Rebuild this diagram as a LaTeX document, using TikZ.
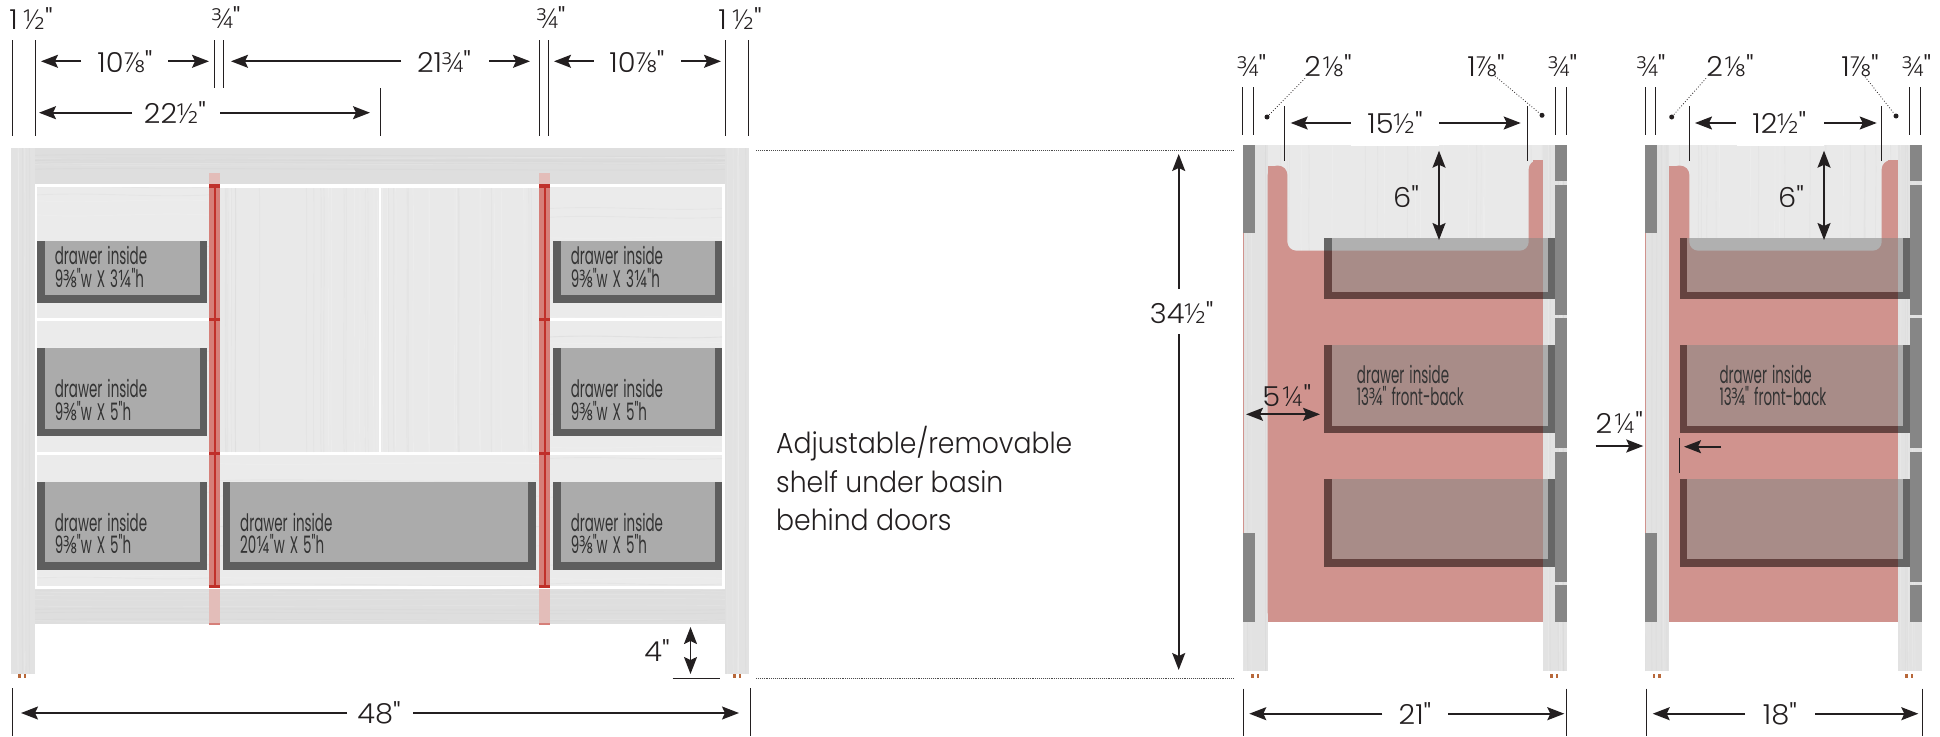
\documentclass[tikz,border=0pt]{standalone}
\usepackage{fontspec}
\usetikzlibrary{arrows.meta}
\newfontfamily\dimfont[FakeStretch=1.05]{Poppins Light}
\newfontfamily\dimfrac[FakeStretch=1.05]{Open Sans Light}
\newfontfamily\drawfont[FakeStretch=0.56,WordSpace=1.4]{Poppins}
\newfontfamily\drawfrac[FakeStretch=0.72]{Open Sans}
\newfontfamily\notefont[FakeStretch=0.92]{Poppins Light}
\newcommand{\F}[1]{{\curfrac #1}}
\definecolor{legc}{HTML}{E2E2E2}
\definecolor{railc}{HTML}{DEDEDE}
\definecolor{frontc}{HTML}{EBEBEB}
\definecolor{doorc}{HTML}{E9E9E9}
\definecolor{framec}{HTML}{5E5E5E}
\definecolor{innerc}{HTML}{ABABAB}
\definecolor{redpanel}{HTML}{D0938E}
\definecolor{redframe}{HTML}{654340}
\definecolor{redinner}{HTML}{A88C88}
\definecolor{stripc}{HTML}{868686}
\definecolor{stilec}{HTML}{D67F79}
\definecolor{stilepale}{HTML}{E3BDB9}
\definecolor{stiledark}{HTML}{C0302A}
\definecolor{inkc}{HTML}{231F20}
\definecolor{footc}{HTML}{B8683A}
\tikzset{
  x=1pt,y=-1pt,
  tick/.style={draw=inkc,line width=1pt},
  arr/.style={draw=inkc,line width=1.7pt,-{Stealth[length=17pt,width=13pt,inset=3pt]}},
  arrs/.style={draw=inkc,line width=1.7pt,{Stealth[length=17pt,width=13pt,inset=3pt]}-{Stealth[length=17pt,width=13pt,inset=3pt]}},
  dl/.style={inner sep=0pt,text=inkc,font=\let\curfrac\dimfrac\dimfont\fontsize{27.5}{27.5}\selectfont},
  dw/.style={inner sep=0pt,anchor=west,align=left,text=black!80,font=\let\curfrac\drawfrac\drawfont\fontsize{24}{22.5}\selectfont},
  leader/.style={draw=inkc,line width=0.8pt,dotted},
  guide/.style={draw=black!70,line width=0.9pt,densely dotted},
  grain/.style={line width=0.9pt,opacity=0.14},
}
% horizontal dimension: name, x1, x2, x3, x4, y, centre, text
\newcommand{\hdim}[8]{%
  \coordinate (#1a) at (#2,#6); \coordinate (#1b) at (#3,#6);
  \coordinate (#1c) at (#4,#6); \coordinate (#1d) at (#5,#6);
  \draw[arr] (#1b) -- (#1a); \draw[arr] (#1c) -- (#1d);
  \node[dl] (#1t) at (#7,#6) {#8};}
\newcommand{\tk}[4]{\coordinate (#1a) at (#2,#3); \coordinate (#1b) at (#2,#4); \draw[tick] (#1a) -- (#1b);}
\newcommand{\bx}[5]{\fill[#5] (#1,#2) rectangle (#3,#4);}
% faint wood grain: vertical and horizontal streaks in a rectangle
\newcommand{\grainv}[5]{\begin{scope}\clip (#1,#2) rectangle (#3,#4);
  \foreach \gi in {1,...,#5}{\pgfmathsetmacro{\gx}{#1+rnd*(#3-#1)}\pgfmathsetmacro{\gb}{ifthenelse(rnd>0.5,1,0)}
    \pgfmathsetmacro{\gs}{rnd*0.5}
    \ifdim\gb pt>0.5pt\draw[grain,white] (\gx,#2) .. controls (\gx+1,#2+40) and (\gx-1,#4-40) .. (\gx+\gs,#4);\else
    \draw[grain,black!22] (\gx,#2) .. controls (\gx+1,#2+40) and (\gx-1,#4-40) .. (\gx+\gs,#4);\fi}\end{scope}}
\newcommand{\grainh}[5]{\begin{scope}\clip (#1,#2) rectangle (#3,#4);
  \foreach \gi in {1,...,#5}{\pgfmathsetmacro{\gy}{#2+rnd*(#4-#2)}\pgfmathsetmacro{\gb}{ifthenelse(rnd>0.5,1,0)}
    \ifdim\gb pt>0.5pt\draw[grain,white] (#1,\gy) .. controls (#1+60,\gy+3) and (#3-60,\gy-3) .. (#3,\gy);\else
    \draw[grain,black!22] (#1,\gy) .. controls (#1+60,\gy-3) and (#3-60,\gy+3) .. (#3,\gy);\fi}\end{scope}}
% drawer window in front view
\newcommand{\win}[7]{\bx{#1}{#3}{#2}{#4}{framec}\bx{#6}{#3}{#7}{#5}{innerc}}
\newcommand{\sidedrawer}[3]{%
  \bx{\dL}{#1}{\lgR}{#3}{redframe}\bx{\lgR}{#1}{\dR}{#3}{black!60}
  \bx{\iL}{#1}{\lgR}{#2}{redinner}\bx{\lgR}{#1}{\iR}{#2}{black!32}}
\newcommand{\sideview}{%
  \bx{\oL}{145}{\oR}{621.7}{doorc}
  \grainv{\lfR}{145}{\lgR}{255}{22}
  \bx{\oL}{145}{\lfR}{671}{legc}\bx{\lgR}{145}{\oR}{671}{legc}
  \grainv{\oL}{145}{\lfR}{671}{7}\grainv{\lgR}{145}{\oR}{671}{7}
  \bx{\oL}{145}{\stL}{233.3}{stripc}\bx{\oL}{533}{\stL}{621.7}{stripc}
  \bx{\dR}{145}{\oR}{181}{stripc}\bx{\dR}{185}{\oR}{315}{stripc}
  \bx{\dR}{318.3}{\oR}{447.7}{stripc}\bx{\dR}{452}{\oR}{582}{stripc}
  \bx{\dR}{585.3}{\oR}{621.7}{stripc}
  \bx{\oL}{233.3}{\oL+1}{533}{redpanel}
  \fill[redpanel,rounded corners=9pt] (\lfR,621.7) -- (\lfR,165.7) -- (\nL,165.7) -- (\nL,250.7) -- (\nR,250.7) -- (\nR,160.3) -- (\lgR,160.3) -- (\lgR,621.7) -- cycle;
  \bx{\lfR}{165.7}{\lfR+10}{621.7}{redpanel}
  \bx{\lgR-10}{160.3}{\lgR}{621.7}{redpanel}
  \bx{\lfR+5}{610}{\lgR-5}{621.7}{redpanel}
  \sidedrawer{237.7}{292}{299.3}
  \sidedrawer{345}{426}{433.3}
  \sidedrawer{478.7}{559.3}{567}
  \begin{scope}
    \clip[rounded corners=9pt] (\nL,130) rectangle (\nR,250.7);
    \bx{\dL}{237.7}{\iL}{251}{black!60}
    \bx{\iL}{237.7}{\iR}{251}{black!31}
  \end{scope}
}
\begin{document}
\begin{tikzpicture}
\pgfmathsetseed{4242}
\useasboundingbox (0,0) rectangle (1940,736);
%---- front view ----
\bx{35}{148}{725}{184}{railc}\grainh{35}{148}{725}{184}{10}
\bx{35}{589}{725}{624}{railc}\grainh{35}{589}{725}{624}{10}
\bx{11}{148}{35}{674}{legc}\grainv{11}{148}{35}{674}{7}
\bx{725}{148}{749}{674}{legc}\grainv{725}{148}{749}{674}{7}
\foreach \yy/\zz in {187/318,321/452,455/586}{
  \bx{37}{\yy}{209}{\zz}{frontc}\grainh{37}{\yy}{209}{\zz}{8}
  \bx{550}{\yy}{722}{\zz}{frontc}\grainh{550}{\yy}{722}{\zz}{8}}
\bx{220}{188}{379.3}{452}{doorc}\grainv{220}{188}{379.3}{452}{24}
\bx{381}{188}{539}{452}{doorc}\grainv{381}{188}{539}{452}{24}
\bx{220}{455}{539}{586}{frontc}\grainh{220}{455}{539}{586}{10}
\win{37}{207}{241}{303}{295}{44.8}{199.5}
\win{553}{722}{241}{303}{295}{560.7}{715}
\win{37}{207}{348}{436}{429}{44.8}{199.5}
\win{553}{722}{348}{436}{429}{560.7}{715}
\win{37}{207}{482}{570}{562}{44.8}{199.5}
\win{223}{536}{482}{570}{562}{230.3}{528}
\win{553}{722}{482}{570}{562}{560.7}{715}
\foreach \xa/\xb/\xc in {209/220/215,539/550/545}{
  \bx{\xa}{172.7}{\xb}{184}{stilepale}
  \bx{\xa}{187}{\xb}{587}{stilec}
  \fill[stiledark] (\xc-1,187) rectangle (\xc+1,587);
  \bx{\xa}{184}{\xb}{187.5}{stiledark}
  \bx{\xa}{318}{\xb}{321}{stiledark}
  \bx{\xa}{451.5}{\xb}{454.5}{stiledark}
  \bx{\xa}{585}{\xb}{588}{stiledark}
  \bx{\xa}{589}{\xb}{624}{stilepale}
  \bx{\xa}{623}{\xb}{625}{stilec}}
\foreach \xx in {22,737,1255,1554,1656.7,1909.3}{
  \fill[footc] (\xx-4,674) rectangle (\xx-1.5,678);
  \fill[footc] (\xx+1.5,674) rectangle (\xx+4,678);}
\node[dw] (w1) at (54.7,267) {drawer inside\\9\F{⅜}"w X 3\F{¼}"h};
\node[dw] (w2) at (570.6,267) {drawer inside\\9\F{⅜}"w X 3\F{¼}"h};
\node[dw] (w3) at (54.7,400) {drawer inside\\9\F{⅜}"w X 5"h};
\node[dw] (w4) at (570.6,400) {drawer inside\\9\F{⅜}"w X 5"h};
\node[dw] (w5) at (54.7,533.5) {drawer inside\\9\F{⅜}"w X 5"h};
\node[dw] (w6) at (240,533.5) {drawer inside\\20\F{¼}"w X 5"h};
\node[dw] (w7) at (570.6,533.5) {drawer inside\\9\F{⅜}"w X 5"h};
%---- front dims ----
\tk{f1}{12}{40}{136}\tk{f2}{35}{40}{136}\tk{f3}{214.4}{40}{88}\tk{f4}{223.4}{40}{88}
\tk{f5}{380}{88}{136}\tk{f6}{539.3}{40}{136}\tk{f7}{548.2}{40}{136}\tk{f8}{725.4}{40}{136}\tk{f9}{748.3}{40}{136}
\node[dl] (l1) at (31,19) {1\hspace{6pt}\F{½}"};
\node[dl] (l2) at (226,18) {\F{¾}"};
\node[dl] (l3) at (551,18) {\F{¾}"};
\node[dl] (l4) at (740,19) {1\hspace{6pt}\F{½}"};
\hdim{da}{41}{81}{168}{209}{61.3}{125}{10\F{⅞}"}
\hdim{db}{231}{401}{489}{530}{61.3}{444}{21\F{¾}"}
\hdim{dc}{554}{593.5}{681}{721}{61.3}{637}{10\F{⅞}"}
\hdim{dd}{39}{132}{220}{370}{112.7}{175}{22\F{½}"}
\hdim{de}{21}{347}{413}{739}{713}{379}{48"}
\tk{f10}{12}{688}{736}\tk{f11}{750}{688}{736}
\node[dl] (l5) at (657,651) {4"};
\coordinate (f12a) at (690.5,627); \coordinate (f12b) at (690.5,674);
\draw[arrs] (f12a) -- (f12b);
\coordinate (f13a) at (672.6,678); \coordinate (f13b) at (720,678);
\draw[draw=inkc,line width=1pt] (f13a) -- (f13b);
%---- note ----
\node[inner sep=0pt,anchor=west,align=left,text=inkc,font=\notefont\fontsize{29}{38.5}\selectfont] (note) at (776,478.5) {Adjustable/removable\\shelf under basin\\behind doors};
%---- guides ----
\coordinate (g1a) at (756,150); \coordinate (g1b) at (1233,150);
\coordinate (g2a) at (756,678); \coordinate (g2b) at (1233,678);
\draw[guide] (g1a) -- (g1b); \draw[guide] (g2a) -- (g2b);
\coordinate (ha) at (1178.7,289); \coordinate (hb) at (1178.7,154);
\coordinate (hc) at (1178.7,334); \coordinate (hd) at (1178.7,670);
\draw[arr] (ha) -- (hb); \draw[arr] (hc) -- (hd);
\node[dl] (l6) at (1181.7,312.7) {34\F{½}"};
%---- side view 1 ----
\def\oL{1243.3}\def\oR{1566.7}\def\lfR{1267.7}\def\lgR{1542.7}\def\stL{1254.7}
\def\nL{1287.3}\def\nR{1528.7}\def\dL{1324}\def\dR{1555.3}\def\iL{1331.7}\def\iR{1547.7}
\sideview
\bx{1351}{145}{1439}{146}{white}
\node[dw] (s1) at (1356.7,385.5) {drawer inside\\13\F{¾}" front-back};
\tk{a1}{1242.7}{87.3}{135}\tk{a2}{1253.3}{87.3}{135}\tk{a3}{1555}{87.3}{135}\tk{a4}{1566}{87.3}{135}
\tk{a5}{1284}{106}{161}\tk{a6}{1527.3}{106}{161}
\node[dl] (l7) at (1251.7,66) {\F{¾}"};
\node[dl] (l8) at (1328,66) {2\hspace{2pt}\F{⅛}"};
\node[dl] (l9) at (1486,66) {1\F{⅞}"};
\node[dl] (l10) at (1562.7,66) {\F{¾}"};
\coordinate (p1) at (1305,78.3); \coordinate (p2) at (1267,117);
\coordinate (p3) at (1495,76); \coordinate (p4) at (1542,115.3);
\draw[leader] (p1) -- (p2); \draw[leader] (p3) -- (p4);
\fill[inkc] (p2) circle (2.5); \fill[inkc] (p4) circle (2.5);
\hdim{dg}{1290.7}{1350.7}{1439.3}{1520.7}{123}{1395}{15\F{½}"}
\coordinate (q1) at (1439,150.7); \coordinate (q2) at (1439,240);
\draw[arrs] (q1) -- (q2);
\node[dl] (l11) at (1406,196.7) {6"};
\node[dl] (l12) at (1286.7,395.3) {5\hspace{2pt}\F{¼}"};
\coordinate (q3) at (1246,414.3); \coordinate (q4) at (1320,414.3);
\draw[arrs] (q3) -- (q4);
\hdim{dh}{1249.3}{1382.3}{1448.3}{1564.3}{713.7}{1415}{21"}
\tk{a7}{1243}{688.7}{736}\tk{a8}{1566.7}{688.7}{736}
%---- side view 2 ----
\def\oL{1645}\def\oR{1922}\def\lfR{1669}\def\lgR{1897.7}\def\stL{1657.3}
\def\nL{1689.3}\def\nR{1881.7}\def\dL{1680}\def\dR{1910.3}\def\iL{1687.3}\def\iR{1903}
\sideview
\bx{1736.7}{145}{1824}{146}{white}
\node[dw] (s2) at (1719.3,385.5) {drawer inside\\13\F{¾}" front-back};
\tk{b1}{1645}{87.3}{135}\tk{b2}{1655}{87.3}{135}\tk{b3}{1909.3}{87.3}{135}\tk{b4}{1920.3}{87.3}{135}
\tk{b5}{1689.3}{106}{161}\tk{b6}{1881.7}{106}{161}
\node[dl] (l13) at (1651,66) {\F{¾}"};
\node[dl] (l14) at (1730,66) {2\hspace{2pt}\F{⅛}"};
\node[dl] (l15) at (1860,66) {1\F{⅞}"};
\node[dl] (l16) at (1916.7,66) {\F{¾}"};
\coordinate (r1) at (1706,78.3); \coordinate (r2) at (1671.7,117);
\coordinate (r3) at (1865,76.7); \coordinate (r4) at (1896,116);
\draw[leader] (r1) -- (r2); \draw[leader] (r3) -- (r4);
\fill[inkc] (r2) circle (2.5); \fill[inkc] (r4) circle (2.5);
\hdim{di}{1695}{1736}{1824}{1876.7}{123}{1779.3}{12\F{½}"}
\coordinate (r5) at (1824,150.7); \coordinate (r6) at (1824,240);
\draw[arrs] (r5) -- (r6);
\node[dl] (l17) at (1791,196.7) {6"};
\node[dl] (l18) at (1619.3,422.7) {2\hspace{2pt}\F{¼}"};
\coordinate (r7) at (1595.7,446); \coordinate (r8) at (1643.3,446);
\draw[arr] (r7) -- (r8);
\coordinate (r9) at (1721,446.7); \coordinate (r10) at (1684,446.7);
\draw[arr] (r9) -- (r10);
\tk{b7}{1679.3}{437.7}{472.7}
\hdim{dj}{1652.7}{1745}{1815}{1918.3}{713.7}{1780}{18"}
\tk{b8}{1646}{688.7}{736}\tk{b9}{1922}{688.7}{736}
\end{tikzpicture}
\end{document}
